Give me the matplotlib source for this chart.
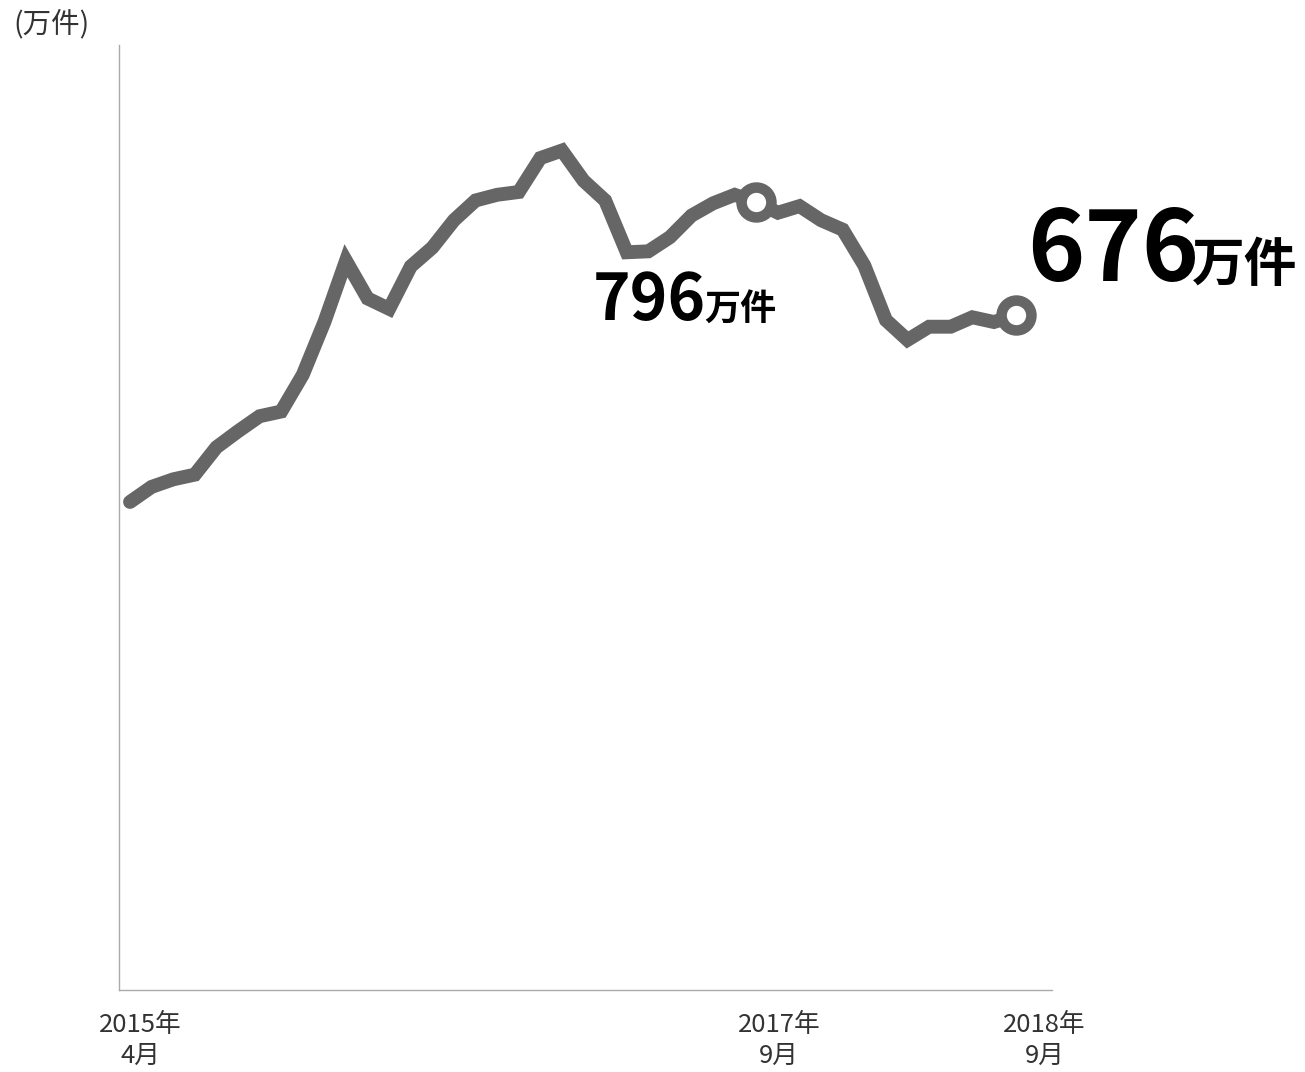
import matplotlib.pyplot as plt
from matplotlib import transforms

plt.rcParams['font.family'] = ['Noto Sans CJK JP', 'DejaVu Sans']

# monthly values, 2015-04 .. 2018-09 (万件)
values = [478, 494, 502, 507, 536, 553, 569, 574, 613, 669,
          734, 694, 683, 728, 748, 777, 798, 804, 807, 843,
          851, 819, 798, 743, 744, 759, 782, 795, 804, 796,
          785, 792, 777, 767, 729, 671, 650, 664, 664, 674,
          669, 676]
months = list(range(len(values)))
tick_idx = [0, 29, 41]
tick_labels = ['2015年\n4月', '2017年\n9月', '2018年\n9月']
tick_nudge = [10, 23, 29]   # px, label centre vs point
mark_idx = [29, 41]

fig = plt.figure(figsize=(13.05, 10.72), dpi=100)
ax = fig.add_axes([119/1305, 82/1072, 933/1305, 945/1072])

line_col = '#666666'
ax.plot(months, values, color=line_col, lw=10, solid_joinstyle='miter',
        solid_capstyle='round', zorder=2)
ax.plot([months[i] for i in mark_idx], [values[i] for i in mark_idx], 'o',
        ms=21.5, mfc='white', mec=line_col, mew=7.6, zorder=3)

ax.set_xlim(-0.51, 42.69)
ax.set_ylim(-40, 963)
for s in ['top', 'right']:
    ax.spines[s].set_visible(False)
for s in ['left', 'bottom']:
    ax.spines[s].set_color('#aaaaaa')
    ax.spines[s].set_linewidth(1)
ax.set_xticks([])
ax.set_yticks([])

# x labels below the axis
trans = transforms.blended_transform_factory(ax.transData, ax.transAxes)
for i, lab, dx in zip(tick_idx, tick_labels, tick_nudge):
    off = transforms.offset_copy(trans, fig=fig, x=dx, y=-22, units='dots')
    ax.text(months[i], 0, lab, transform=off, ha='center', va='top',
            fontsize=18.5, color='#333333', linespacing=1.25)

fig.text(13/1305, 1 - 9/1072, '(万件)', ha='left', va='top', fontsize=20.5,
         color='#333333')

# value labels
i = mark_idx[0]
ax.annotate(str(values[i]), (months[i], values[i]), xytext=(-118, -85),
            textcoords='offset points', ha='left', va='baseline',
            fontsize=46, fontweight='bold', color='black')
ax.annotate('万件', (months[i], values[i]), xytext=(-37.5, -85),
            textcoords='offset points', ha='left', va='baseline',
            fontsize=26, fontweight='bold', color='black')
i = mark_idx[1]
ax.annotate(str(values[i]), (months[i], values[i]), xytext=(8.6, 25),
            textcoords='offset points', ha='left', va='baseline',
            fontsize=70, fontweight='bold', color='black')
ax.annotate('万件', (months[i], values[i]), xytext=(127, 25),
            textcoords='offset points', ha='left', va='baseline',
            fontsize=38, fontweight='bold', color='black')

fig.savefig('out.png', dpi=100, facecolor='white')
